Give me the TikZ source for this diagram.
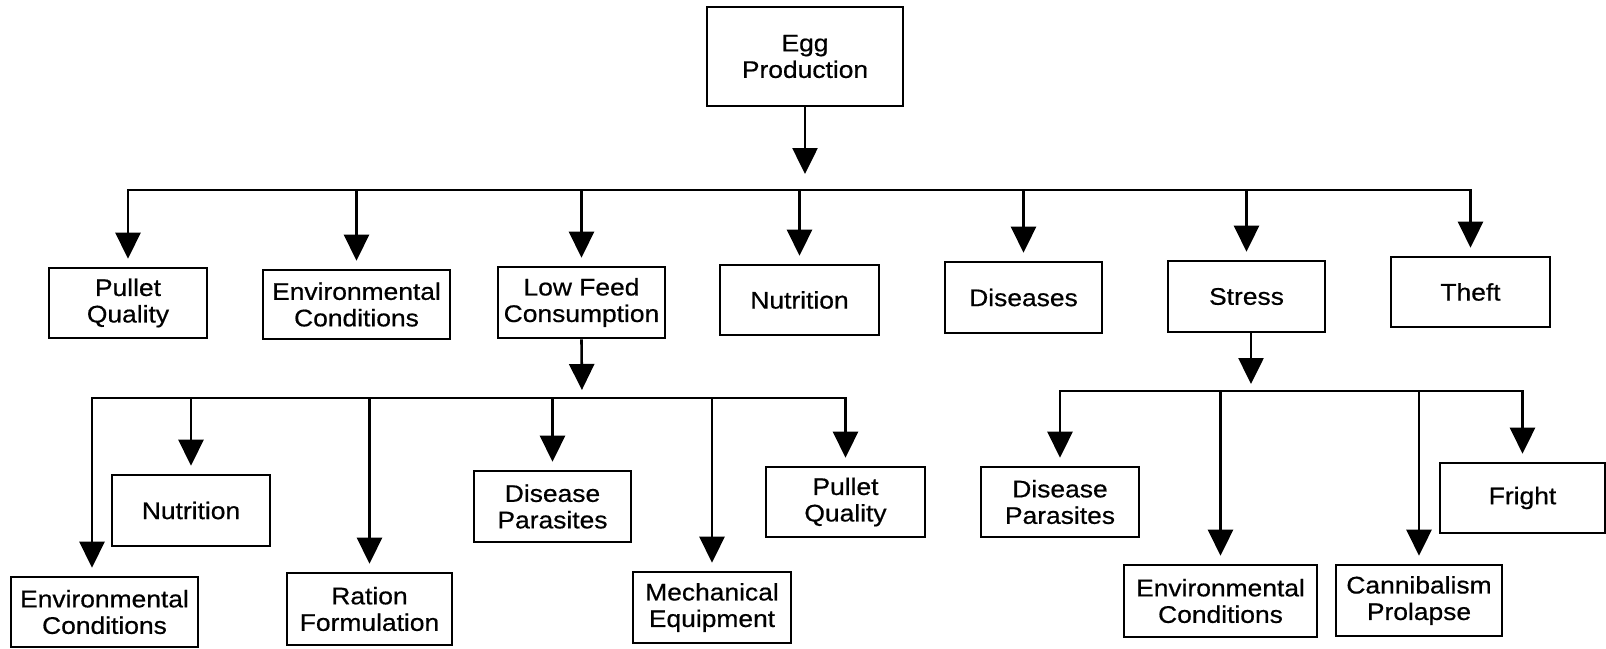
\documentclass[tikz,border=0pt]{standalone}
\usepackage{fontspec}
\setmainfont{Liberation Sans}[FakeStretch=1.1,FakeBold=0.6]
\usetikzlibrary{arrows.meta}
\begin{document}
\begin{tikzpicture}[x=1pt,y=-1pt,
  box/.style={draw, line width=2.6pt, inner sep=0pt, align=center,
    font=\fontsize{24}{26.5}\selectfont},
  conn/.style={line width=2.6pt},
  arr/.style={conn, -{Triangle[width=25pt,length=26pt]}, shorten >=8pt}]
\useasboundingbox (0,0) rectangle (1606,648);
% top
\node[box, minimum width=196pt, minimum height=99pt] (egg) at (805,56.5) {Egg\\Production};
% level 1
\node[box, minimum width=158pt, minimum height=70pt] (pq1) at (128,303) {Pullet\\Quality};
\node[box, minimum width=187pt, minimum height=69pt] (ec1) at (356.5,304.5) {Environmental\\Conditions};
\node[box, minimum width=167pt, minimum height=71pt] (lfc) at (581.5,302.5) {Low Feed\\Consumption};
\node[box, minimum width=159pt, minimum height=70pt] (nut1) at (799.5,300) {Nutrition};
\node[box, minimum width=157pt, minimum height=71pt] (dis) at (1023.5,297.5) {Diseases};
\node[box, minimum width=157pt, minimum height=71pt] (stress) at (1246.5,296.5) {Stress};
\node[box, minimum width=159pt, minimum height=70pt] (theft) at (1470.5,292) {Theft};
% level 2 under Low Feed Consumption
\node[box, minimum width=187pt, minimum height=70pt] (ec2) at (104.5,612) {Environmental\\Conditions};
\node[box, minimum width=158pt, minimum height=71pt] (nut2) at (191,510.5) {Nutrition};
\node[box, minimum width=165pt, minimum height=72pt] (rf) at (369.5,609) {Ration\\Formulation};
\node[box, minimum width=157pt, minimum height=71pt] (dp2) at (552.5,506.5) {Disease\\Parasites};
\node[box, minimum width=158pt, minimum height=71pt] (me) at (712,607.5) {Mechanical\\Equipment};
\node[box, minimum width=159pt, minimum height=70pt] (pq2) at (845.5,502) {Pullet\\Quality};
% level 2 under Stress
\node[box, minimum width=158pt, minimum height=70pt] (dp3) at (1060,502) {Disease\\Parasites};
\node[box, minimum width=193pt, minimum height=72pt] (ec3) at (1220.5,601) {Environmental\\Conditions};
\node[box, minimum width=166pt, minimum height=71pt] (cp) at (1419,600.5) {Cannibalism\\Prolapse};
\node[box, minimum width=165pt, minimum height=70pt] (fright) at (1522.5,498) {Fright};
% junctions
\coordinate (j1) at (805,190);
\coordinate (j2) at (582,398);
\coordinate (j2L) at (92,398);
\coordinate (j3) at (1251,391);
% connectors level 1
\draw[arr, shorten >=16pt] (egg.south) -- (j1);
\draw[arr] (j1) -| (pq1.north);
\draw[arr] (j1) -| (theft.north);
\foreach \n in {ec1,lfc,nut1,dis,stress}
  \draw[arr] (j1 -| \n.north) -- (\n.north);
% connectors under Low Feed Consumption
\draw[arr] (lfc.south) -- (j2);
\draw[arr] (j2) -- (j2L) -- (j2L |- ec2.north);
\draw[arr] (j2) -| (pq2.north);
\foreach \n in {nut2,rf,dp2,me}
  \draw[arr] (j2 -| \n.north) -- (\n.north);
% connectors under Stress
\draw[arr, shorten >=7pt] (stress.south -| j3) -- (j3);
\draw[arr] (j3) -| (dp3.north);
\draw[arr] (j3) -| (fright.north);
\foreach \n in {ec3,cp}
  \draw[arr] (j3 -| \n.north) -- (\n.north);
\end{tikzpicture}
\end{document}
